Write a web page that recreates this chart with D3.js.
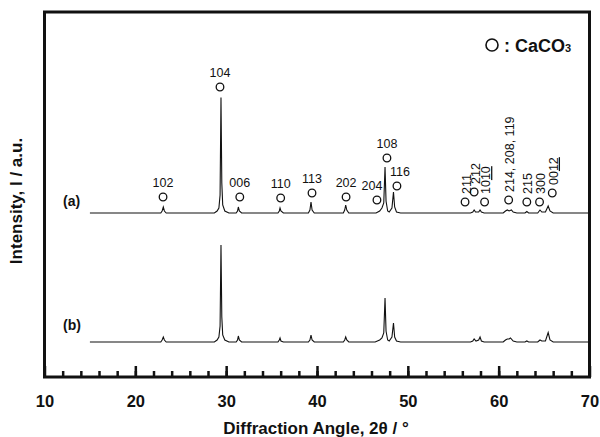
<!DOCTYPE html>
<html>
<head>
<meta charset="utf-8">
<script src="https://cdn.jsdelivr.net/npm/d3@7"></script>
<style>
  body { margin: 0; background: #fff; }
  svg text { font-family: "Liberation Sans", Arial, Helvetica, sans-serif; fill: #111; }
</style>
</head>
<body>
<svg id="chart" width="600" height="437"></svg>
<script>
// pattern (a): 2theta (deg) and intensity above its own baseline (a.u.)
const aAngle = [15.0, 22.8, 22.95, 23.08, 23.2, 23.4,
  28.7, 29.0, 29.2, 29.33, 29.43, 29.52, 29.62, 29.85, 30.3,
  31.1, 31.25, 31.34, 31.45, 31.7,
  35.7, 35.85, 35.93, 36.03, 36.3,
  39.05, 39.22, 39.34, 39.46, 39.7,
  42.9, 43.05, 43.16, 43.28, 43.5,
  46.5, 46.9, 47.15, 47.35, 47.49, 47.6, 47.78, 47.95, 48.25, 48.42, 48.55, 48.75, 49.2,
  56.9, 57.15, 57.3, 57.45, 57.8, 57.95, 58.1, 58.4,
  60.5, 60.75, 60.95, 61.15, 61.4, 61.6, 62.0,
  62.9, 63.1, 63.3,
  64.3, 64.55, 64.75, 65.15, 65.45, 65.65, 66.0, 70.0];
const aInt = [0, 0, 2, 6, 2, 0,
  0, 2, 5, 18, 115.5, 30, 8, 2, 0,
  0, 2, 6, 2, 0,
  0, 2, 5, 2, 0,
  0, 3, 11, 3, 0,
  0, 3, 8, 3, 0,
  0, 2, 5, 10, 46, 12, 2, 1, 5, 21, 6, 1, 0,
  0, 1, 3, 1, 1, 3, 1, 0,
  0, 2, 3, 2, 3, 1, 0,
  0, 1.5, 0,
  0, 3, 1, 1, 7, 2, 0, 0];

// pattern (b)
const bAngle = [15.0, 22.8, 22.95, 23.08, 23.2, 23.4,
  28.7, 29.0, 29.2, 29.33, 29.43, 29.52, 29.62, 29.85, 30.3,
  31.1, 31.25, 31.34, 31.45, 31.7,
  35.7, 35.85, 35.93, 36.03, 36.3,
  39.05, 39.22, 39.34, 39.46, 39.7,
  42.9, 43.05, 43.16, 43.28, 43.5,
  46.4, 46.9, 47.15, 47.35, 47.49, 47.6, 47.78, 47.95, 48.25, 48.42, 48.55, 48.75, 49.2,
  56.9, 57.15, 57.3, 57.5, 57.8, 57.95, 58.1, 58.4,
  60.5, 60.75, 60.95, 61.15, 61.3, 61.6, 62.0,
  62.9, 63.1, 63.3,
  64.3, 64.55, 64.75, 65.15, 65.45, 65.65, 66.0, 70.0];
const bInt = [0, 0, 2, 5, 2, 0,
  0, 2, 5, 16, 97, 25, 7, 2, 0,
  0, 2, 6, 2, 0,
  0, 2, 4, 1, 0,
  0, 2, 7, 2, 0,
  0, 2, 5, 2, 0,
  0, 2, 4, 9, 44, 11, 2, 1, 5, 19, 5, 1, 0,
  0, 1, 3, 1, 2, 5, 1, 0,
  0, 2, 3, 3, 4, 1, 0,
  0, 1, 0,
  0, 2, 1, 1, 9.5, 2, 0, 0];

const offsetA = 164, offsetB = 35;

// CaCO3 reflections marked above pattern (a)
const hkl = ["102", "104", "006", "110", "113", "202", "204", "108", "116",
  "211", "212", "10|10", "214, 208, 119", "215", "300", "00|12"];
const hklAngle = [23.05, 29.32, 31.5, 36.0, 39.45, 43.2, 46.6, 47.7, 48.8,
  56.3, 57.3, 58.45, 61.1, 63.1, 64.5, 65.9];
const hklLevel = [16, 126, 16, 15, 20, 16, 13, 55, 27, 11, 21, 11, 13, 11, 11, 20];
const hklVertical = [false, false, false, false, false, false, false, false, false,
  true, true, true, true, true, true, true];

const xTicks = [10, 20, 30, 40, 50, 60, 70];

const svg = d3.select("#chart");
const plotL = 44.5, plotR = 589.5, plotT = 12, plotB = 377;

const x = d3.scaleLinear().domain([10, 70]).range([plotL, plotR]);
const y = d3.scaleLinear().domain([0, 365]).range([plotB, plotT]);

// minor ticks every 2 deg, major every 10, pointing into the plot
const minor = svg.append("g")
  .attr("transform", "translate(0," + plotB + ")")
  .call(d3.axisBottom(x).tickValues(d3.range(12, 70, 2)).tickSize(-6).tickFormat(""));
minor.select(".domain").remove();
minor.selectAll("line").attr("stroke", "#111").attr("stroke-width", 2.5);

const major = svg.append("g")
  .attr("transform", "translate(0," + plotB + ")")
  .call(d3.axisBottom(x).tickValues(xTicks).tickSize(-11).tickPadding(18).tickFormat(d3.format("d")));
major.select(".domain").remove();
major.selectAll("line").attr("stroke", "#111").attr("stroke-width", 2.5);
major.selectAll("text")
  .attr("font-size", 16.5)
  .attr("font-weight", "bold")
  .attr("fill", "#111");

svg.append("rect")
  .attr("x", plotL).attr("y", plotT)
  .attr("width", plotR - plotL).attr("height", plotB - plotT)
  .attr("fill", "none").attr("stroke", "#111").attr("stroke-width", 3);

function pattern(angles, ints, offset) {
  const pts = angles.map((a, i) => [a, ints[i] + offset]);
  svg.append("path")
    .datum(pts)
    .attr("fill", "none")
    .attr("stroke", "#111")
    .attr("stroke-width", 1.1)
    .attr("d", d3.line().x(d => x(d[0])).y(d => y(d[1])));
}
pattern(aAngle, aInt, offsetA);
pattern(bAngle, bInt, offsetB);

// reflection markers
const nudge = { "204": -5, "116": 3 };
hkl.forEach((lab, i) => {
  const cx = x(hklAngle[i]);
  const cy = y(offsetA + hklLevel[i]);
  svg.append("circle")
    .attr("cx", cx).attr("cy", cy).attr("r", 3.8)
    .attr("fill", "none").attr("stroke", "#111").attr("stroke-width", 1.3);

  const parts = lab.split("|");
  let t;
  if (hklVertical[i]) {
    t = svg.append("text")
      .attr("transform", "translate(" + (cx + 5.5) + "," + (cy - 8) + ") rotate(-90)")
      .attr("font-size", 12.5);
  } else {
    t = svg.append("text")
      .attr("x", cx + (nudge[lab] || 0)).attr("y", cy - 10.5)
      .attr("text-anchor", "middle")
      .attr("font-size", 12.5);
  }
  t.append("tspan").text(parts[0]);
  if (parts.length > 1) {
    t.append("tspan").attr("text-decoration", "underline").text(parts[1]);
  }
});

// series labels
svg.append("text").attr("x", 63).attr("y", y(offsetA) - 7)
  .attr("font-size", 14).attr("font-weight", "bold").text("(a)");
svg.append("text").attr("x", 63).attr("y", y(offsetB) - 12)
  .attr("font-size", 14).attr("font-weight", "bold").text("(b)");

// legend
svg.append("circle").attr("cx", 492).attr("cy", 45).attr("r", 6)
  .attr("fill", "none").attr("stroke", "#111").attr("stroke-width", 1.6);
const leg = svg.append("text").attr("x", 504).attr("y", 51.5)
  .attr("font-size", 18).attr("font-weight", "bold");
leg.append("tspan").text(": CaCO");
leg.append("tspan").attr("font-size", 11).text("3");

// axis titles
svg.append("text")
  .attr("transform", "translate(22," + 201 + ") rotate(-90)")
  .attr("text-anchor", "middle")
  .attr("font-size", 17).attr("font-weight", "bold")
  .text("Intensity, I / a.u.");

svg.append("text")
  .attr("x", 316).attr("y", 434)
  .attr("text-anchor", "middle")
  .attr("font-size", 17).attr("font-weight", "bold")
  .text("Diffraction Angle, 2θ / °");
</script>
</body>
</html>
